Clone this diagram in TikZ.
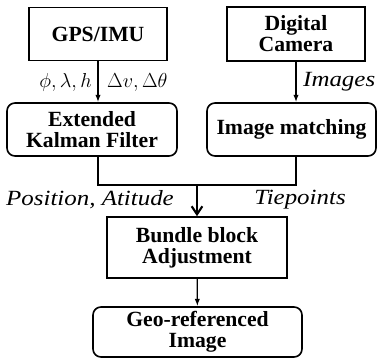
\documentclass[tikz,border=0pt]{standalone}
\usepackage{amsmath, amssymb}
\usepackage{fontspec}
\setmainfont{Liberation Serif}
\newfontfamily\lblfont[FakeStretch=1.15]{Liberation Serif}
\usetikzlibrary{positioning,arrows.meta}

\begin{document}
\begin{tikzpicture}[
      >={Latex[length=2.2mm,width=1.6mm]},
      box/.style={draw,line width=1.4pt,align=center,inner sep=0pt,
        font=\fontsize{18.5}{18}\selectfont\bfseries},
      rbox/.style={box,rounded corners=0.24cm},
      lbl/.style={inner sep=0pt,font=\fontsize{18.5}{18}\lblfont\itshape},
      link/.style={line width=1.1pt},
    ]
    \useasboundingbox (0,0) rectangle (11.46,10.74);

    % Sensors
    \node[box, minimum width=4.14cm, minimum height=1.59cm] (gps) at (2.94,9.72) {GPS/IMU};
    \node[box, minimum width=4.14cm, minimum height=1.62cm] (cam) at (8.88,9.72) {Digital\\Camera};

    % Processing
    \node[rbox, minimum width=5.1cm, minimum height=1.59cm] (ekf) at (2.76,6.855) {Extended\\Kalman Filter};
    \node[rbox, minimum width=5.07cm, minimum height=1.59cm] (match) at (8.745,6.855) {Image matching};
    \draw[link,->] (gps) -- (gps |- ekf.north);
    \draw[link,->] (cam) -- (cam |- match.north);
    \node[lbl, anchor=east] (obs) at (2.76,8.28) {$\phi, \lambda, h$};
    \node[lbl, anchor=west] (inc) at (3.21,8.28) {$\Delta v, \Delta\theta$};
    \node[lbl, anchor=west] (img) at (9.09,8.28) {Images};

    % Adjustment
    \node[box, minimum width=5.4cm, minimum height=1.83cm] (bba) at (5.91,3.315) {Bundle block\\Adjustment};
    \coordinate (join) at (5.91,5.19);
    \draw[link] (gps |- ekf.south) |- (join) -| (cam |- match.south);
    \draw[line width=1.8pt,-{Straight Barb[length=2.4mm,width=3.2mm]}] (join) -- (bba);
    \node[lbl] (pos) at (2.7,4.74) {Position, Atitude};
    \node[lbl] (tie) at (9.0,4.74) {Tiepoints};

    % Result
    \node[rbox, minimum width=6.27cm, minimum height=1.5cm] (geo) at (5.925,0.78) {Geo-referenced\\Image};
    \draw[link,->] (bba) -- (geo);
  \end{tikzpicture}
\end{document}
